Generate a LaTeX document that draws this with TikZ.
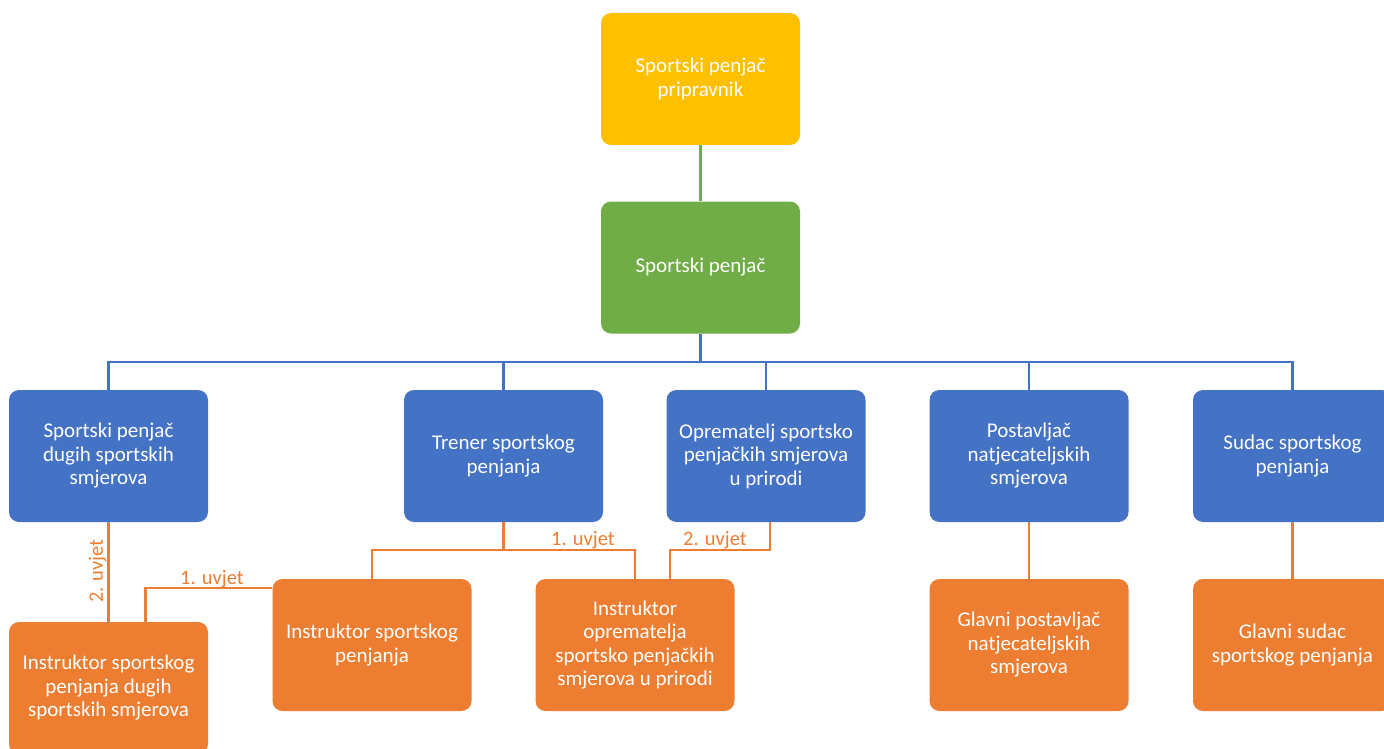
\documentclass[tikz,border=0pt]{standalone}
\usepackage{fontspec}
\setmainfont{Carlito}
\definecolor{cyel}{HTML}{FFC000}
\definecolor{cgrn}{HTML}{70AD47}
\definecolor{cblu}{HTML}{4472C4}
\definecolor{corg}{HTML}{ED7D31}
\begin{document}
\begin{tikzpicture}[x=1pt,y=-1pt,
  box/.style={rounded corners=10pt, minimum width=199pt, minimum height=132pt,
    align=center, text=white, inner sep=0pt,
    font=\fontsize{21}{23.5}\selectfont},
  yelbox/.style={box, fill=cyel},
  grnbox/.style={box, fill=cgrn},
  blubox/.style={box, fill=cblu},
  orgbox/.style={box, fill=corg},
  gline/.style={draw=cgrn, line width=2.2pt},
  bline/.style={draw=cblu, line width=2.2pt},
  oline/.style={draw=corg, line width=2.2pt},
  lbl/.style={text=corg, font=\fontsize{20.5}{23}\selectfont, inner sep=1pt}
]
\useasboundingbox (0,0) rectangle (1384,749);
\clip (0,0) rectangle (1384,749);

\node[yelbox] (yel) at (700.5,79) {Sportski penjač\\pripravnik};
\node[grnbox] (grn) at (700.5,267.5) {Sportski penjač};

\node[blubox] (b1) at (108.5,456) {Sportski penjač\\dugih sportskih\\smjerova};
\node[blubox] (b2) at (503.5,456) {Trener sportskog\\penjanja};
\node[blubox] (b3) at (766,456) {Oprematelj sportsko\\penjačkih smjerova\\u prirodi};
\node[blubox] (b4) at (1029,456) {Postavljač\\natjecateljskih\\smjerova};
\node[blubox] (b5) at (1292.5,456) {Sudac sportskog\\penjanja};

\node[orgbox] (o1) at (108.5,688) {Instruktor sportskog\\penjanja dugih\\sportskih smjerova};
\node[orgbox] (o2) at (372,645) {Instruktor sportskog\\penjanja};
\node[orgbox] (o3) at (635,645) {Instruktor\\oprematelja\\sportsko penjačkih\\smjerova u prirodi};
\node[orgbox] (o4) at (1029,645) {Glavni postavljač\\natjecateljskih\\smjerova};
\node[orgbox] (o5) at (1292.5,645) {Glavni sudac\\sportskog penjanja};

\coordinate (bus) at (0,362);
\coordinate (bus2) at (0,550);

\draw[gline] (yel) -- (grn);
\draw[bline] (grn.south) -- (grn.south|-bus);
\draw[bline] (b1.north) -- (b1.north|-bus) -- (b5.north|-bus) -- (b5.north);
\draw[bline] (b2.north) -- (b2.north|-bus);
\draw[bline] (b3.north) -- (b3.north|-bus);
\draw[bline] (b4.north) -- (b4.north|-bus);

\draw[oline] (b1.south) -- (o1.north)
  node[lbl, pos=0.49, anchor=south, rotate=90] (l1) {2. uvjet};
\draw[oline] ([yshift=-9pt]o2.north west) -| ([xshift=37pt]o1.north);
\node[lbl, anchor=south] (l2) at (212,589) {1. uvjet};
\draw[oline] (b2.south) -- (b2.south|-bus2);
\draw[oline] (o2.north) -- (o2.north|-bus2) -- (o3.north|-bus2) -- (o3.north);
\node[lbl, anchor=south] (l3) at (583,550) {1. uvjet};
\draw[oline] ([xshift=4pt]b3.south) -- ([xshift=4pt]b3.south|-bus2) -| ([xshift=35pt]o3.north);
\node[lbl, anchor=south] (l4) at (715,550) {2. uvjet};
\draw[oline] (b4.south) -- (o4.north);
\draw[oline] (b5.south) -- (o5.north);
\end{tikzpicture}
\end{document}
